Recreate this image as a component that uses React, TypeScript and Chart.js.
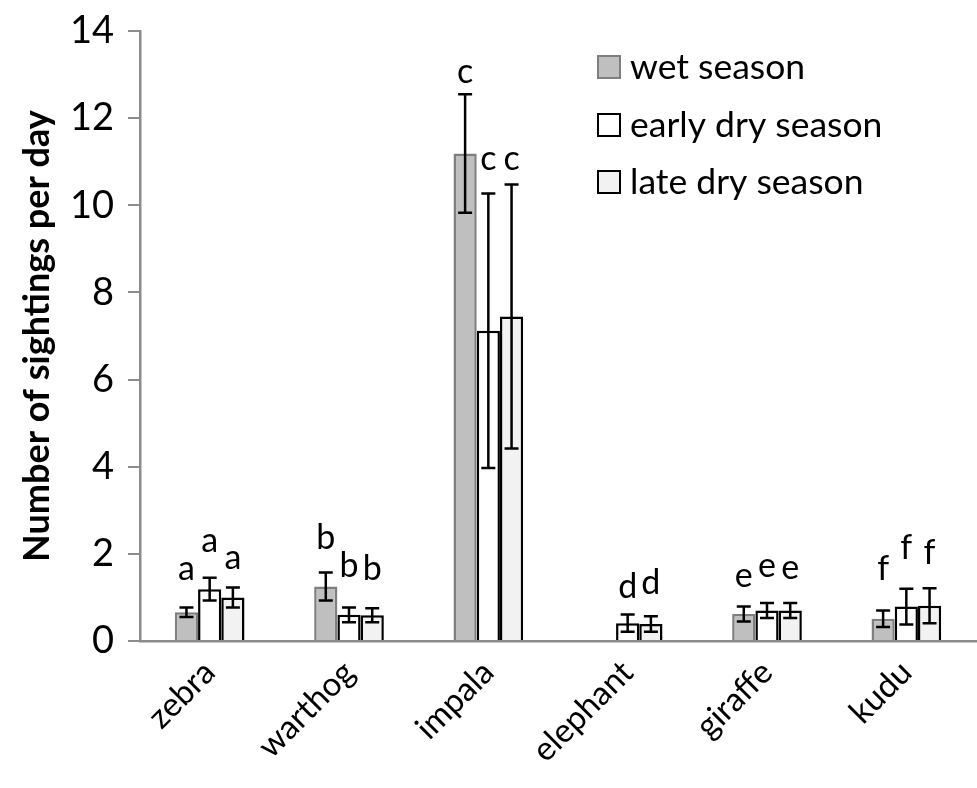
import React, { useEffect, useRef } from "react";
import { Chart, registerables } from "chart.js";

Chart.register(...registerables);

const categories = ["zebra", "warthog", "impala", "elephant", "giraffe", "kudu"];
const seriesNames = ["wet season", "early dry season", "late dry season"];

const wetValues = [0.66, 1.25, 11.19, null, 0.62, 0.51];
const wetErrors = [0.11, 0.32, 1.36, null, 0.17, 0.19];
const earlyValues = [1.19, 0.6, 7.12, 0.41, 0.7, 0.79];
const earlyErrors = [0.26, 0.17, 3.15, 0.2, 0.17, 0.41];
const lateValues = [1.0, 0.59, 7.45, 0.39, 0.7, 0.81];
const lateErrors = [0.23, 0.16, 3.03, 0.18, 0.17, 0.4];

const wetLetters = ["a", "b", "c", "", "e", "f"];
const earlyLetters = ["a", "b", "c", "d", "e", "f"];
const lateLetters = ["a", "b", "c", "d", "e", "f"];
const wetLetterHeights = [1.66, 2.36, 13.07, null, 1.5, 1.66];
const earlyLetterHeights = [2.29, 1.72, 11.07, 1.25, 1.72, 2.13];
const lateLetterHeights = [1.91, 1.66, 11.07, 1.32, 1.68, 2.02];

const yTicks = [0, 2, 4, 6, 8, 10, 12, 14];

const FONT = "Lato, 'Open Sans', sans-serif";

const errorsBySeries = [wetErrors, earlyErrors, lateErrors];
const lettersBySeries = [wetLetters, earlyLetters, lateLetters];
const letterHeightsBySeries = [wetLetterHeights, earlyLetterHeights, lateLetterHeights];

const fills = ["#bfbfbf", "#ffffff", "#f2f2f2"];
const strokes = ["#7f7f7f", "#000000", "#000000"];

const overlayPlugin = {
  id: "overlay",
  afterDatasetsDraw(chart: any) {
    const ctx = chart.ctx;
    const y = chart.scales.y;
    ctx.save();
    // error bars
    chart.data.datasets.forEach((ds: any, di: number) => {
      const meta = chart.getDatasetMeta(di);
      const errs = errorsBySeries[di];
      meta.data.forEach((el: any, i: number) => {
        const v = ds.data[i];
        const e = errs[i];
        if (v == null || e == null) return;
        const x = el.x;
        const yt = y.getPixelForValue(v + e);
        const yb = y.getPixelForValue(v - e);
        ctx.strokeStyle = "#000";
        ctx.lineWidth = 2.5;
        ctx.beginPath();
        ctx.moveTo(x, yt);
        ctx.lineTo(x, yb);
        ctx.moveTo(x - 7, yt);
        ctx.lineTo(x + 7, yt);
        ctx.moveTo(x - 7, yb);
        ctx.lineTo(x + 7, yb);
        ctx.stroke();
      });
    });
    // significance letters
    ctx.fillStyle = "#000";
    ctx.font = `34px ${FONT}`;
    ctx.textAlign = "center";
    ctx.textBaseline = "middle";
    chart.data.datasets.forEach((ds: any, di: number) => {
      const meta = chart.getDatasetMeta(di);
      const letters = lettersBySeries[di];
      const hs = letterHeightsBySeries[di];
      meta.data.forEach((el: any, i: number) => {
        if (!letters[i] || hs[i] == null) return;
        ctx.fillText(letters[i], el.x, y.getPixelForValue(hs[i]));
      });
    });
    // legend
    const rows = [67, 125, 182];
    ctx.textAlign = "left";
    ctx.font = `35.5px ${FONT}`;
    chart.data.datasets.forEach((ds: any, di: number) => {
      const cy = rows[di];
      ctx.fillStyle = fills[di];
      ctx.fillRect(598, cy - 11, 22, 22);
      ctx.strokeStyle = strokes[di];
      ctx.lineWidth = 2;
      ctx.strokeRect(598, cy - 11, 22, 22);
      ctx.fillStyle = "#000";
      ctx.fillText(ds.label, 630, cy + 1);
    });
    ctx.restore();
  },
};

export default function App() {
  const ref = useRef<HTMLCanvasElement | null>(null);
  useEffect(() => {
    if (!ref.current) return;
    const valuesBySeries = [wetValues, earlyValues, lateValues];
    const chart = new Chart(ref.current, {
      type: "bar",
      data: {
        labels: categories,
        datasets: seriesNames.map((name, i) => ({
          label: name,
          data: valuesBySeries[i],
          backgroundColor: fills[i],
          borderColor: strokes[i],
          borderWidth: 2.5,
          categoryPercentage: 0.5,
          barPercentage: 1.0,
        })),
      },
      options: {
        animation: false,
        responsive: true,
        maintainAspectRatio: false,
        layout: { padding: { top: 24, right: 1, left: 0, bottom: 0 } },
        plugins: {
          legend: { display: false },
          tooltip: { enabled: false },
        },
        scales: {
          x: {
            grid: { display: false },
            border: { display: true, color: "#8c8c8c", width: 2.5 },
            ticks: {
              color: "#000",
              font: { family: FONT, size: 33 },
              minRotation: 45,
              maxRotation: 45,
              padding: 4,
            },
            afterFit(scale: any) {
              scale.height = 147;
            },
          },
          y: {
            min: 0,
            max: 14,
            afterBuildTicks(axis: any) {
              axis.ticks = yTicks.map((v) => ({ value: v }));
            },
            grid: {
              display: true,
              drawOnChartArea: false,
              drawTicks: true,
              tickLength: 12,
              color: "#8c8c8c",
              lineWidth: 2,
            },
            border: { display: true, color: "#8c8c8c", width: 2.5 },
            ticks: {
              color: "#000",
              font: { family: FONT, size: 38, lineHeight: 0.9 },
              padding: 14,
            },
            title: {
              display: true,
              text: "Number of sightings per day",
              color: "#000",
              font: { family: FONT, size: 36, weight: "bold" },
              padding: { top: 16, bottom: 4 },
            },
            afterFit(scale: any) {
              scale.width = 140;
            },
          },
        },
      },
      plugins: [overlayPlugin],
    });
    return () => chart.destroy();
  }, []);
  return (
    <div style={{ position: "fixed", left: 0, top: 0, width: 977, height: 788, background: "#fff" }}>
      <canvas ref={ref} />
    </div>
  );
}
